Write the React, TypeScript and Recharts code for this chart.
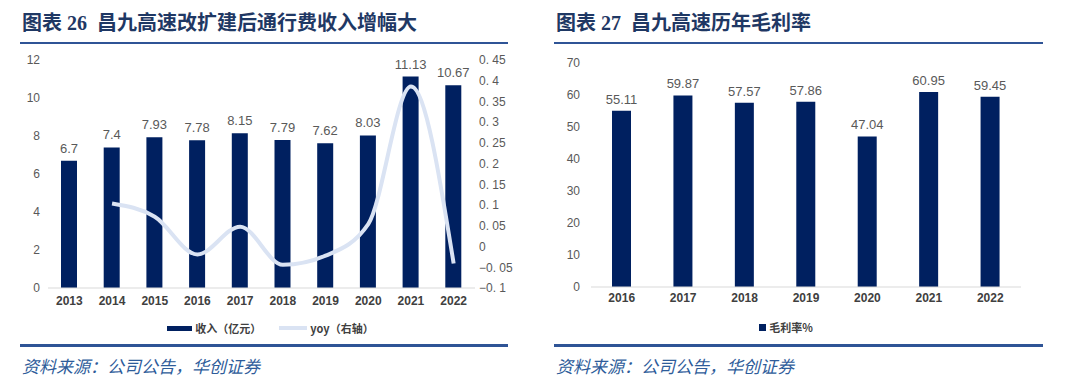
import { ComposedChart, BarChart, Bar, Line, XAxis, YAxis, Legend, LabelList } from 'recharts';

const YEARS_L = ['2013', '2014', '2015', '2016', '2017', '2018', '2019', '2020', '2021', '2022'];
const REVENUE = [6.7, 7.4, 7.93, 7.78, 8.15, 7.79, 7.62, 8.03, 11.13, 10.67];
const YOY = [null, 0.104, 0.072, -0.019, 0.048, -0.044, -0.022, 0.054, 0.386, -0.041];
const LEFT_TICKS = [0, 2, 4, 6, 8, 10, 12];
const RIGHT_TICKS = [-0.1, -0.05, 0, 0.05, 0.1, 0.15, 0.2, 0.25, 0.3, 0.35, 0.4, 0.45];

const YEARS_R = ['2016', '2017', '2018', '2019', '2020', '2021', '2022'];
const MARGIN_PCT = [55.11, 59.87, 57.57, 57.86, 47.04, 60.95, 59.45];
const MARGIN_TICKS = [0, 10, 20, 30, 40, 50, 60, 70];

const NAVY = '#002060';
const LINE = '#DAE3F3';
const RULE = '#2F5496';
const TITLE = '#1F3864';
const FONT = '"Liberation Sans", "Noto Sans CJK SC", sans-serif';
const CJK = '"Noto Sans CJK SC", sans-serif';
const TITLE_FONT = '"Liberation Serif", "Noto Sans CJK SC", serif';

const left = YEARS_L.map((y, i) => ({ year: y, rev: REVENUE[i], yoy: YOY[i] }));
const right = YEARS_R.map((y, i) => ({ year: y, gm: MARGIN_PCT[i] }));

const fmtRight = (v: number) => String(Number(v.toFixed(2))).replace('.', '. ').replace('-', '−');

const axisTick = { fill: '#595959', fontSize: 12, fontFamily: FONT };
const xTick = { fill: '#404040', fontSize: 12, fontWeight: 700, fontFamily: FONT };

function LeftLegend() {
  return (
    <div style={{ height: 20, display: 'flex', justifyContent: 'center', alignItems: 'center', fontFamily: CJK, fontSize: 11, fontWeight: 700, color: '#404040' }}>
      <span style={{ display: 'inline-block', width: 25, height: 5, background: NAVY, marginRight: 3 }} />
      <span>收入（亿元）</span>
      <span style={{ display: 'inline-block', width: 28, height: 4, background: LINE, marginLeft: 18, marginRight: 3 }} />
      <span>yoy（右轴）</span>
    </div>
  );
}

function RightLegend() {
  return (
    <div style={{ height: 20, display: 'flex', justifyContent: 'center', alignItems: 'center', fontFamily: CJK, fontSize: 11, fontWeight: 700, color: '#404040' }}>
      <span style={{ display: 'inline-block', width: 7, height: 7, background: NAVY, marginRight: 3 }} />
      <span>毛利率%</span>
    </div>
  );
}

function Title({ x, w, text }: { x: number; w: number; text: string }) {
  return (
    <div style={{ position: 'absolute', left: x, top: 0, width: w, height: 44, borderBottom: `2px solid ${RULE}`, boxSizing: 'border-box' }}>
      <div style={{ position: 'absolute', left: 2, top: 11, fontFamily: TITLE_FONT, fontWeight: 700, fontSize: 20, color: TITLE, whiteSpace: 'pre', lineHeight: '24px' }}>{text}</div>
    </div>
  );
}

function Footer({ x, w }: { x: number; w: number }) {
  return (
    <div style={{ position: 'absolute', left: x, top: 344, width: w, borderTop: `3px solid ${RULE}` }}>
      <div style={{ marginTop: 9, marginLeft: 2, fontFamily: CJK, fontStyle: 'italic', fontSize: 17, color: '#2E5C9A', lineHeight: '20px' }}>资料来源：公司公告，华创证券</div>
    </div>
  );
}

export default function App() {
  return (
    <div style={{ position: 'absolute', left: 0, top: 0, width: 1080, height: 385, background: '#fff', overflow: 'hidden' }}>
      <Title x={20} w={488} text={'图表 26  昌九高速改扩建后通行费收入增幅大'} />
      <Title x={554} w={489} text={'图表 27  昌九高速历年毛利率'} />

      <div style={{ position: 'absolute', left: 0, top: 40 }}>
        <ComposedChart width={540} height={302} data={left} margin={{ top: 20, right: 7, left: 8, bottom: 4 }}>
          <XAxis dataKey="year" tick={xTick} tickLine={false} tickSize={0} tickMargin={8} height={30} axisLine={{ stroke: '#D9D9D9' }} />
          <YAxis yAxisId="l" domain={[0, 12]} ticks={LEFT_TICKS} width={40} tick={axisTick} axisLine={false} tickLine={false} tickSize={0} tickMargin={8} />
          <YAxis yAxisId="r" orientation="right" domain={[-0.1, 0.45]} ticks={RIGHT_TICKS} tickFormatter={fmtRight} width={58} tick={axisTick} axisLine={false} tickLine={false} tickSize={0} tickMargin={4} />
          <Legend verticalAlign="bottom" content={() => <LeftLegend />} />
          <Bar yAxisId="l" dataKey="rev" fill={NAVY} barSize={16} isAnimationActive={false}>
            <LabelList dataKey="rev" position="top" offset={8} fill="#595959" fontSize={13} fontFamily={FONT} />
          </Bar>
          <Line yAxisId="r" dataKey="yoy" type="monotone" stroke={LINE} strokeWidth={4} dot={false} isAnimationActive={false} />
        </ComposedChart>
      </div>

      <div style={{ position: 'absolute', left: 540, top: 40 }}>
        <BarChart width={540} height={304} data={right} margin={{ top: 23, right: 59, left: 11, bottom: 7 }}>
          <XAxis dataKey="year" tick={xTick} tickLine={false} tickSize={0} tickMargin={6} height={30} axisLine={{ stroke: '#D9D9D9' }} />
          <YAxis domain={[0, 70]} ticks={MARGIN_TICKS} width={40} tick={axisTick} axisLine={false} tickLine={false} tickSize={0} tickMargin={11} />
          <Legend verticalAlign="bottom" content={() => <RightLegend />} />
          <Bar dataKey="gm" fill={NAVY} barSize={19} isAnimationActive={false}>
            <LabelList dataKey="gm" position="top" offset={7} fill="#595959" fontSize={13} fontFamily={FONT} />
          </Bar>
        </BarChart>
      </div>

      <Footer x={20} w={488} />
      <Footer x={554} w={489} />
    </div>
  );
}
